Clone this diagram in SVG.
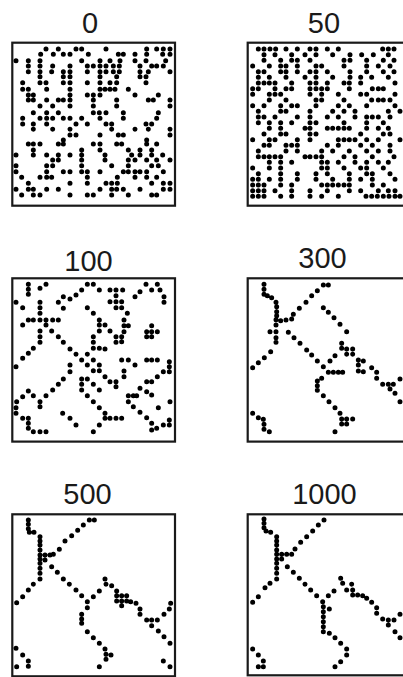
<svg xmlns="http://www.w3.org/2000/svg" width="403" height="677" viewBox="0 0 403 677">
<style>
.box{fill:#fff;stroke:#1a1a1a;stroke-width:2.2}
.dots{fill:none;stroke:#000;stroke-width:15;stroke-linecap:round}
.lbl{font-family:"Liberation Sans",Arial,sans-serif;font-size:29px;text-anchor:middle;fill:#1a1a1a}
</style>
<rect width="403" height="677" fill="#fff"/>
<g id="panel-0">
<text class="lbl" x="90" y="33">0</text>
<rect class="box" x="12.3" y="42.7" width="162.7" height="163"/>
<g transform="translate(0,0) scale(0.33333)">
<path class="dots" d="M138 147h0M175 147h0M228 147h0M245 147h0M318 147h0M440 147h0M470 147h0M490 147h0M510 147h0
M122 163h0M160 163h0M190 163h0M210 163h0M265 163h0M355 163h0M370 163h0M405 163h0M440 163h0M488 163h0M510 163h0
M48 182h0M85 182h0M120 182h0M245 182h0M300 182h0M330 182h0M360 182h0M405 182h0M438 182h0M497 182h0
M85 198h0M120 198h0M158 198h0M210 198h0M262 198h0M280 198h0M300 198h0M318 198h0M340 198h0M358 198h0M420 198h0M455 198h0M470 198h0M490 198h0
M85 215h0M120 215h0M155 215h0M190 215h0M210 215h0M262 215h0M300 215h0M318 215h0M340 215h0M358 215h0M420 215h0M445 215h0M510 215h0
M120 230h0M190 230h0M210 230h0M300 230h0M350 230h0M420 230h0M438 230h0
M68 248h0M120 248h0M138 248h0M190 248h0M210 248h0M262 248h0M300 248h0M330 248h0M350 248h0M438 248h0
M68 268h0M85 268h0M140 268h0M210 268h0M300 268h0M315 268h0M330 268h0M345 268h0M385 268h0
M85 285h0M100 285h0M210 285h0M262 285h0M280 285h0M300 285h0M405 285h0M475 285h0
M85 300h0M100 300h0M140 300h0M175 300h0M190 300h0M210 300h0M280 300h0M350 300h0M445 300h0M460 300h0M510 300h0
M120 318h0M158 318h0M210 318h0M280 318h0M350 318h0M510 318h0
M100 338h0M140 338h0M175 338h0M280 338h0M298 338h0M318 338h0M370 338h0M475 338h0
M68 355h0M120 355h0M140 355h0M158 355h0M190 355h0M210 355h0M245 355h0M300 355h0M370 355h0M470 355h0
M68 372h0M100 372h0M140 372h0M228 372h0M262 372h0M318 372h0M335 372h0M438 372h0M455 372h0
M100 388h0M158 388h0M210 388h0M335 388h0M405 388h0M445 388h0M510 388h0
M210 405h0M228 405h0M300 405h0M355 405h0M370 405h0M510 405h0
M190 420h0M440 420h0
M85 432h0M100 432h0M120 432h0M175 432h0M190 432h0M280 432h0M300 432h0M350 432h0M365 432h0M440 432h0M470 432h0
M100 450h0M245 450h0M300 450h0M385 450h0M420 450h0M455 450h0
M48 465h0M100 465h0M140 465h0M175 465h0M210 465h0M245 465h0M315 465h0M395 465h0M420 465h0M455 465h0M488 465h0
M158 480h0M175 480h0M245 480h0M315 480h0M385 480h0M405 480h0M440 480h0M470 480h0M510 480h0
M48 497h0M140 497h0M158 497h0M245 497h0M335 497h0M385 497h0M455 497h0M475 497h0
M48 515h0M140 515h0M190 515h0M210 515h0M245 515h0M262 515h0M300 515h0M370 515h0M385 515h0M405 515h0M420 515h0M440 515h0M490 515h0
M65 532h0M120 532h0M140 532h0M155 532h0M262 532h0M352 532h0M405 532h0M440 532h0M470 532h0
M85 550h0M210 550h0M262 550h0M318 550h0M335 550h0M352 550h0M455 550h0M490 550h0M510 550h0
M48 568h0M85 568h0M100 568h0M140 568h0M175 568h0M300 568h0M335 568h0M350 568h0M370 568h0M420 568h0M490 568h0M510 568h0
M65 585h0M100 585h0M120 585h0M210 585h0M262 585h0M280 585h0M335 585h0M385 585h0M455 585h0M470 585h0"/>
</g>
</g>
<g id="panel-50">
<text class="lbl" x="324" y="33">50</text>
<rect class="box" x="247.7" y="42.7" width="162.7" height="163"/>
<g transform="translate(210,0) scale(0.33333)">
<path class="dots" d="M145 147h0M162 147h0M180 147h0M197 147h0M228 147h0M262 147h0M300 147h0M318 147h0M352 147h0M385 147h0M518 147h0M535 147h0M552 147h0
M162 164h0M195 164h0M245 164h0M285 164h0M318 164h0M368 164h0M420 164h0M455 164h0M490 164h0M535 164h0
M162 181h0M212 181h0M245 181h0M262 181h0M300 181h0M402 181h0M420 181h0M470 181h0M520 181h0M552 181h0
M128 198h0M178 198h0M212 198h0M228 198h0M262 198h0M318 198h0M335 198h0M402 198h0M470 198h0M505 198h0M540 198h0
M145 215h0M162 215h0M212 215h0M228 215h0M262 215h0M300 215h0M318 215h0M352 215h0M420 215h0M470 215h0M520 215h0M552 215h0
M145 232h0M178 232h0M228 232h0M285 232h0M318 232h0M368 232h0M420 232h0M452 232h0M485 232h0M535 232h0
M145 249h0M162 249h0M178 249h0M195 249h0M245 249h0M300 249h0M318 249h0M352 249h0M402 249h0M418 249h0M452 249h0M555 249h0
M128 266h0M145 266h0M195 266h0M228 266h0M245 266h0M300 266h0M318 266h0M335 266h0M352 266h0M418 266h0M487 266h0M505 266h0M520 266h0
M128 283h0M178 283h0M195 283h0M212 283h0M300 283h0M335 283h0M385 283h0M452 283h0M470 283h0M555 283h0
M178 300h0M228 300h0M318 300h0M335 300h0M402 300h0M485 300h0M505 300h0M520 300h0M540 300h0
M128 317h0M162 317h0M212 317h0M245 317h0M262 317h0M318 317h0M385 317h0M418 317h0M470 317h0M555 317h0
M145 334h0M212 334h0M228 334h0M300 334h0M368 334h0M402 334h0M435 334h0M535 334h0M570 334h0
M145 351h0M162 351h0M195 351h0M262 351h0M300 351h0M352 351h0M385 351h0M435 351h0M470 351h0M487 351h0M505 351h0M540 351h0
M145 368h0M178 368h0M212 368h0M245 368h0M300 368h0M318 368h0M402 368h0M470 368h0M520 368h0
M178 385h0M212 385h0M285 385h0M300 385h0M352 385h0M368 385h0M385 385h0M402 385h0M418 385h0M470 385h0M505 385h0M535 385h0
M162 402h0M212 402h0M228 402h0M300 402h0M318 402h0M452 402h0M520 402h0M540 402h0
M128 419h0M178 419h0M195 419h0M262 419h0M300 419h0M385 419h0M402 419h0M418 419h0M435 419h0M470 419h0M505 419h0M570 419h0
M162 436h0M178 436h0M228 436h0M245 436h0M262 436h0M352 436h0M385 436h0M452 436h0M487 436h0M540 436h0
M145 453h0M228 453h0M262 453h0M335 453h0M368 453h0M418 453h0M470 453h0M505 453h0M540 453h0
M145 470h0M162 470h0M178 470h0M195 470h0M212 470h0M285 470h0M300 470h0M318 470h0M335 470h0M402 470h0M435 470h0M487 470h0M552 470h0
M178 487h0M212 487h0M245 487h0M335 487h0M352 487h0M385 487h0M435 487h0M470 487h0M505 487h0M535 487h0
M128 504h0M178 504h0M212 504h0M335 504h0M352 504h0M402 504h0M452 504h0M470 504h0M520 504h0
M145 521h0M212 521h0M262 521h0M318 521h0M352 521h0M418 521h0M470 521h0M487 521h0M540 521h0
M128 538h0M145 538h0M178 538h0M212 538h0M262 538h0M318 538h0M368 538h0M418 538h0M452 538h0M487 538h0M555 538h0
M128 555h0M145 555h0M162 555h0M212 555h0M245 555h0M335 555h0M352 555h0M368 555h0M385 555h0M402 555h0M418 555h0M487 555h0M520 555h0
M128 572h0M145 572h0M162 572h0M195 572h0M245 572h0M300 572h0M352 572h0M418 572h0M452 572h0M505 572h0M535 572h0M555 572h0
M128 589h0M145 589h0M162 589h0M212 589h0M245 589h0M300 589h0M335 589h0M385 589h0M468 589h0M485 589h0M502 589h0M520 589h0M537 589h0M555 589h0M570 589h0"/>
</g>
</g>
<g id="panel-100">
<text class="lbl" x="88.5" y="271">100</text>
<rect class="box" x="12.3" y="278.3" width="162.7" height="163.3"/>
<g transform="translate(0,225) scale(0.33333)">
<path class="dots" d="M85 178h0M85 193h0M85 208h0M120 190h0M138 178h0M262 178h0M280 178h0M245 195h0M228 210h0M210 222h0M190 215h0M298 195h0
M330 195h0M348 195h0M368 195h0M348 212h0M348 230h0M365 230h0M330 230h0M348 248h0M365 248h0M382 265h0
M405 215h0M420 200h0M438 178h0M472 178h0M455 195h0M480 195h0M492 215h0M492 232h0
M48 232h0M68 248h0M120 232h0M120 248h0M120 265h0M175 232h0M190 250h0
M262 248h0M280 265h0M298 285h0M298 300h0M315 300h0M330 318h0M298 318h0M280 335h0M280 352h0M280 370h0M298 370h0M315 372h0M348 352h0M365 350h0M348 335h0
M372 285h0M372 302h0M385 302h0M372 320h0M365 335h0
M68 300h0M85 285h0M100 285h0M120 285h0M138 285h0M158 285h0M175 285h0M120 318h0M120 335h0M120 352h0
M100 370h0M85 385h0M68 400h0M48 425h0
M138 300h0M155 318h0M175 335h0M190 352h0M210 372h0M228 388h0M245 405h0M262 420h0M280 437h0M298 437h0M315 455h0M330 470h0M348 470h0M348 485h0
M262 388h0M280 405h0M298 420h0
M455 302h0M440 320h0M455 320h0M472 320h0M440 335h0M455 335h0
M440 405h0M455 405h0M472 405h0M508 410h0M508 425h0M508 440h0M490 440h0M472 455h0
M365 405h0M385 405h0M405 420h0M372 438h0M372 455h0
M210 420h0M210 440h0M190 462h0M175 478h0M158 495h0M138 512h0M120 530h0M68 515h0M50 530h0M48 548h0M48 565h0M68 580h0M85 580h0M85 595h0M85 610h0M100 620h0M120 620h0M138 620h0M85 498h0M100 512h0M120 545h0
M245 462h0M245 478h0M245 495h0M262 462h0M280 478h0M298 495h0M262 512h0M280 530h0M298 548h0M315 565h0M330 580h0M348 580h0M365 580h0M315 580h0M298 600h0M280 620h0
M188 565h0M210 580h0M228 600h0
M385 512h0M400 512h0M410 512h0M385 530h0M400 545h0M420 562h0M440 578h0M455 595h0M470 610h0M455 615h0M490 600h0M508 600h0M508 585h0
M440 470h0M455 470h0M420 490h0M440 500h0M455 510h0M510 530h0M475 548h0"/>
</g>
</g>
<g id="panel-300">
<text class="lbl" x="322.5" y="268">300</text>
<rect class="box" x="247.7" y="278.3" width="162.7" height="163.3"/>
<g transform="translate(210,225) scale(0.33333)">
<path class="dots" d="M162 178h0M162 193h0M162 208h0M172 212h0M185 218h0
M198 232h0M200 245h0M200 260h0M200 272h0M198 284h0M212 287h0M228 285h0M245 282h0
M250 268h0M268 250h0M288 232h0M305 212h0M322 197h0M340 180h0M355 180h0
M198 300h0M180 320h0M198 320h0M198 338h0M198 352h0
M182 380h0M163 398h0M145 413h0M128 428h0
M235 322h0M252 338h0M270 355h0M290 375h0M305 390h0M322 408h0M340 425h0M355 442h0M370 442h0M385 442h0M398 442h0
M340 248h0M355 262h0M372 278h0M390 298h0M410 320h0
M395 355h0M395 370h0M410 372h0M428 372h0M410 388h0M428 388h0M375 392h0M360 408h0
M445 405h0M460 408h0M445 420h0M445 438h0M460 440h0M485 428h0
M500 442h0M500 460h0M518 478h0M535 478h0M550 478h0M540 492h0M555 505h0M570 462h0M570 530h0
M335 460h0M322 468h0M322 482h0M322 496h0M340 512h0M357 530h0M375 548h0M390 565h0M395 582h0M410 582h0M428 582h0M395 597h0M410 597h0M375 620h0
M128 565h0M145 578h0M160 583h0M162 598h0M162 613h0M178 620h0"/>
</g>
</g>
<g id="panel-500">
<text class="lbl" x="87.5" y="504">500</text>
<rect class="box" x="12.3" y="514.3" width="162.7" height="162"/>
<g transform="translate(0,455) scale(0.33333)">
<path class="dots" d="M85 195h0M85 208h0M85 221h0M88 232h0M102 232h0
M268 195h0M283 195h0M250 210h0M233 226h0M215 242h0M195 258h0M178 283h0M160 298h0
M120 245h0M120 258h0M120 270h0M120 285h0M120 300h0M120 312h0M120 325h0M120 340h0M120 355h0M120 372h0M135 300h0M150 300h0M135 315h0
M155 335h0M172 352h0M190 372h0M208 388h0M228 405h0M245 422h0M262 440h0M262 458h0
M100 388h0M85 405h0M68 425h0M50 443h0
M245 478h0M245 492h0M245 505h0M262 530h0M280 548h0M298 565h0M315 582h0M318 598h0M333 600h0M318 613h0M298 635h0
M280 425h0M298 408h0M315 372h0M318 388h0M335 392h0M350 408h0M350 422h0M365 422h0M380 422h0M350 438h0M365 438h0M380 438h0M365 452h0M392 440h0M408 445h0M420 462h0M420 478h0M440 495h0M455 495h0M472 495h0M455 512h0M492 478h0M508 462h0M512 445h0M475 528h0M492 545h0M510 565h0
M48 580h0M68 600h0M85 618h0M85 634h0M50 635h0M490 618h0M510 635h0"/>
</g>
</g>
<g id="panel-1000">
<text class="lbl" x="324.5" y="504">1000</text>
<rect class="box" x="247.7" y="514.3" width="162.7" height="161"/>
<g transform="translate(210,455) scale(0.33333)">
<path class="dots" d="M162 192h0M162 205h0M162 218h0M168 228h0M182 232h0
M342 195h0M325 210h0M308 228h0M290 245h0M272 262h0M255 282h0M245 298h0M230 298h0M215 298h0M215 312h0
M200 245h0M200 258h0M200 270h0M200 285h0M200 298h0M200 312h0M200 325h0M200 340h0M200 355h0M200 372h0
M232 335h0M250 352h0M268 370h0M285 388h0M302 405h0M320 422h0M338 440h0
M180 385h0M165 398h0M145 425h0M128 442h0
M340 455h0M340 470h0M340 485h0M340 500h0M340 515h0M340 530h0M358 462h0M358 535h0M375 548h0M392 565h0M410 582h0M410 600h0M392 620h0M375 635h0
M355 422h0M372 408h0M392 370h0M398 385h0M425 388h0M410 405h0M428 405h0M428 420h0M443 420h0M458 422h0M470 430h0M485 442h0M500 458h0M500 475h0M518 492h0M535 495h0M552 495h0M535 510h0M555 530h0M570 548h0M570 478h0
M128 582h0M145 600h0M160 618h0M145 635h0M160 635h0"/>
</g>
</g>
</svg>
